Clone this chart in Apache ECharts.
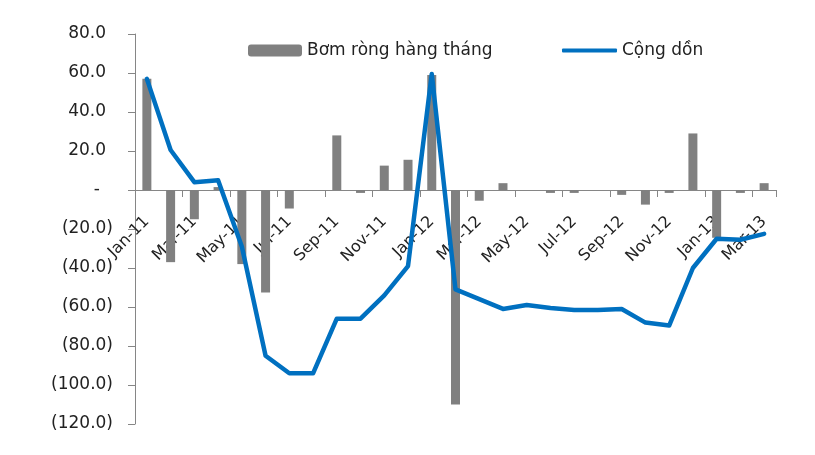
<!DOCTYPE html>
<html>
<head>
<meta charset="utf-8">
<script src="https://cdn.jsdelivr.net/npm/echarts@6/dist/echarts.min.js"></script>
<style>
  html, body { margin: 0; padding: 0; background: #ffffff; }
  #chart { width: 815px; height: 455px; }
</style>
</head>
<body>
<div id="chart"></div>
<script>
// Months on the category axis
const months = [
  'Jan-11','Feb-11','Mar-11','Apr-11','May-11','Jun-11','Jul-11','Aug-11','Sep-11','Oct-11','Nov-11','Dec-11',
  'Jan-12','Feb-12','Mar-12','Apr-12','May-12','Jun-12','Jul-12','Aug-12','Sep-12','Oct-12','Nov-12','Dec-12',
  'Jan-13','Feb-13','Mar-13'
];

// Net monthly injection (bars)
const monthlyNet = [
  57, -37, -15, 1.5, -38, -52.5, -9.5, 0, 28, -1.5, 12.5, 15.5,
  59, -110, -5.5, 3.5, 0, -1.5, -1.5, 0, -2.5, -7.5, -1.5, 29,
  -24.5, -1.5, 3.5
];

// Cumulative total (line)
const cumulative = [
  57, 20.5, 4, 5, -29, -85, -94, -94, -66, -66, -54, -39,
  59.5, -51, -56, -61, -59, -60.5, -61.5, -61.5, -61, -68, -69.5, -40,
  -25, -25.5, -22.5
];

const seriesNames = ['Bơm ròng hàng tháng', 'Cộng dồn'];

const FONT = 'DejaVu Sans';
const TEXT = '#222222';
const AXIS = '#868686';
const BLUE = '#0070C0';

// Plot box and value range, used to sit the category axis on the zero line
const GRID_TOP = 34, GRID_BOTTOM = 31, CHART_H = 455;
const Y_MIN = -120, Y_MAX = 80;
const plotH = CHART_H - GRID_TOP - GRID_BOTTOM;
const zeroOffset = -plotH * (0 - Y_MIN) / (Y_MAX - Y_MIN);

const chart = echarts.init(document.getElementById('chart'), null, { renderer: 'canvas' });

chart.setOption({
  animation: false,
  backgroundColor: '#ffffff',
  textStyle: { fontFamily: FONT },
  grid: {
    left: 135, right: 39, top: GRID_TOP, bottom: GRID_BOTTOM,
    containLabel: false, outerBoundsMode: 'none'
  },
  legend: [
    {
      data: [seriesNames[0]],
      left: 248, top: 42, padding: 0,
      itemWidth: 54, itemHeight: 12,
      textStyle: { fontFamily: FONT, fontSize: 17, color: TEXT }
    },
    {
      data: [{ name: seriesNames[1], icon: 'roundRect' }],
      left: 562, top: 42, padding: 0,
      itemWidth: 55, itemHeight: 4,
      itemStyle: { color: BLUE },
      textStyle: { fontFamily: FONT, fontSize: 17, color: TEXT }
    }
  ],
  xAxis: {
    type: 'category',
    data: months,
    boundaryGap: true,
    position: 'bottom',
    offset: zeroOffset,
    axisLine: { onZero: false, lineStyle: { color: AXIS, width: 1 } },
    axisTick: { show: true, interval: 1, length: 7, lineStyle: { color: AXIS } },
    axisLabel: {
      interval: 1,
      rotate: 45,
      margin: 29,
      fontFamily: FONT,
      fontSize: 16,
      color: TEXT
    },
    splitLine: { show: false }
  },
  yAxis: {
    type: 'value',
    min: Y_MIN, max: Y_MAX, interval: 20,
    axisLine: { show: true, lineStyle: { color: AXIS, width: 1 } },
    axisTick: { show: true, length: 7, lineStyle: { color: AXIS } },
    splitLine: { show: false },
    axisLabel: {
      margin: 22,
      fontFamily: FONT,
      fontSize: 17,
      color: TEXT,
      formatter: function (v) {
        if (v === 0) return '{z|-}';
        if (v < 0) return '(' + Math.abs(v).toFixed(1) + ')';
        return '{p|' + v.toFixed(1) + '}';
      },
      rich: {
        z: { fontFamily: FONT, fontSize: 17, color: TEXT, padding: [0, 13, 0, 0] },
        p: { fontFamily: FONT, fontSize: 17, color: TEXT, padding: [0, 7, 0, 0] }
      }
    }
  },
  series: [
    {
      name: seriesNames[0],
      type: 'bar',
      data: monthlyNet,
      barWidth: 9,
      itemStyle: { color: '#808080' },
      z: 2
    },
    {
      name: seriesNames[1],
      type: 'line',
      data: cumulative,
      symbol: 'none',
      smooth: false,
      lineStyle: { color: BLUE, width: 4.5, join: 'round', cap: 'round' },
      itemStyle: { color: BLUE },
      z: 3
    }
  ]
});
</script>
</body>
</html>
